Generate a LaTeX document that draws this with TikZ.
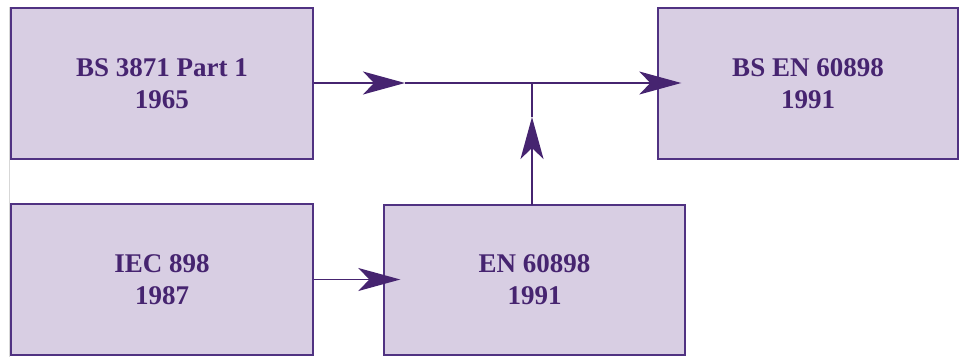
\documentclass[tikz,border=0pt]{standalone}
\usepackage{fontspec}
\setmainfont{Liberation Serif}
\usetikzlibrary{arrows.meta}
\definecolor{boxfill}{RGB}{216,206,227}
\definecolor{boxline}{RGB}{80,50,130}
\definecolor{ink}{RGB}{70,36,112}
\definecolor{edgegray}{RGB}{215,215,215}
\tikzset{
  stdbox/.style={draw=boxline, line width=1.4pt, fill=boxfill, text=ink,
    minimum height=151pt, inner sep=0pt, align=center,
    font=\fontsize{27}{32}\selectfont\bfseries},
  conn/.style={draw=ink, line width=1.4pt},
  arr/.style={conn, -{Stealth[length=42pt, width=23pt, inset=11pt]}}
}
\begin{document}
\begin{tikzpicture}[x=1pt, y=-1pt]
\useasboundingbox (0,0) rectangle (959,357);
\draw[edgegray, line width=0.8pt] (9.5,7) -- (9.5,357);
\node[stdbox, minimum width=302pt] (A) at (162,83.5) {BS 3871 Part 1\\1965};
\node[stdbox, minimum width=300pt] (B) at (808,83.5) {BS EN 60898\\1991};
\node[stdbox, minimum width=302pt] (C) at (162,279.5) {IEC 898\\1987};
\node[stdbox, minimum width=301pt, minimum height=150pt] (D) at (534.5,280) {EN 60898\\1991};
\coordinate (j) at (532,83);
\coordinate (m1) at (405,83);
\coordinate (m2) at (532,117);
\coordinate (dtop) at (532,205);
\draw[arr] (A.east |- m1) -- (m1);
\draw[conn] (m1) -- (j);
\draw[arr, shorten >=-24pt] (j) -- (B.west |- j);
\draw[arr] (dtop) -- (m2);
\draw[conn] (m2) -- (j);
\draw[arr, shorten >=-17pt] (C.east) -- (D.west |- C.east);
\end{tikzpicture}
\end{document}
